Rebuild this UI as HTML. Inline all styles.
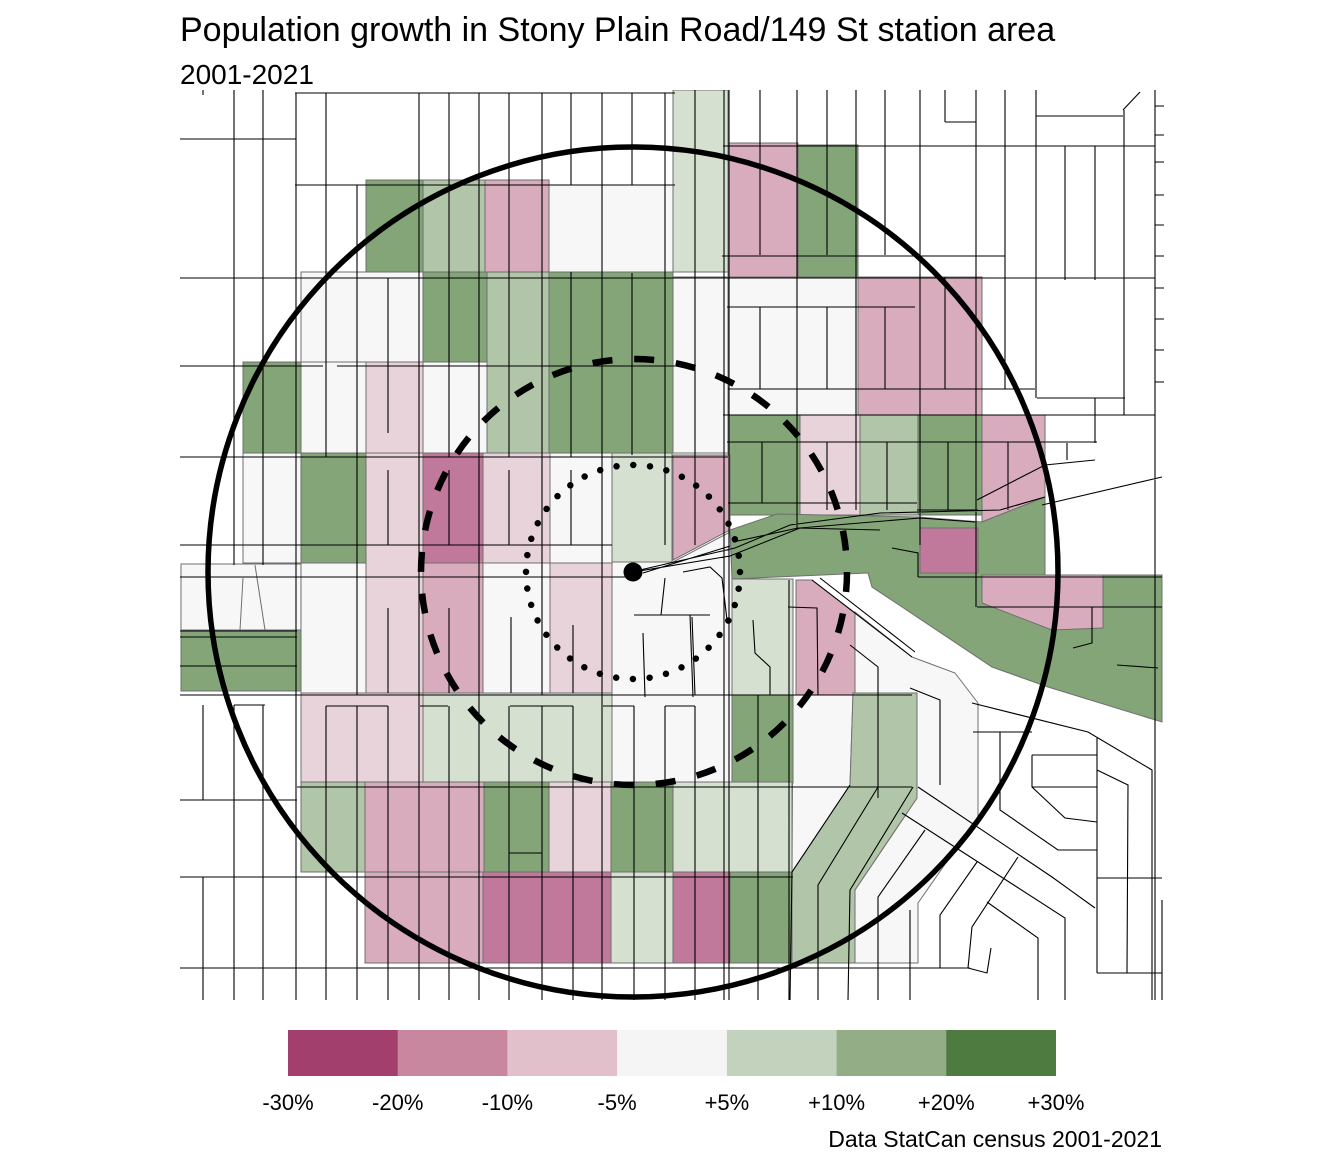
<!DOCTYPE html>
<html><head><meta charset="utf-8"><style>
html,body{margin:0;padding:0;background:#fff;}
svg{display:block;font-family:"Liberation Sans",Arial,sans-serif;}
</style></head><body>
<svg width="1344" height="1152" viewBox="0 0 1344 1152" xmlns="http://www.w3.org/2000/svg">
<defs><clipPath id="c"><rect x="180" y="90" width="984" height="911"/></clipPath></defs>
<rect width="1344" height="1152" fill="#fff"/>
<g clip-path="url(#c)">
<g stroke="#6f6f6f" stroke-width="1">
<rect x="673" y="90" width="55" height="182" fill="#d5e0d1"/>
<rect x="366" y="180" width="57" height="92" fill="#83a577"/>
<rect x="423" y="180" width="62" height="92" fill="#b1c6a8"/>
<rect x="485" y="180" width="64" height="92" fill="#d9acbd"/>
<rect x="549" y="185" width="124" height="87" fill="#f7f7f7"/>
<rect x="728" y="143" width="70" height="134" fill="#d9acbd"/>
<rect x="798" y="145" width="60" height="132" fill="#83a577"/>
<rect x="301" y="272" width="122" height="90" fill="#f7f7f7"/>
<rect x="423" y="272" width="64" height="90" fill="#83a577"/>
<rect x="487" y="272" width="62" height="181" fill="#b1c6a8"/>
<rect x="549" y="272" width="124" height="181" fill="#83a577"/>
<rect x="673" y="277" width="55" height="176" fill="#f7f7f7"/>
<rect x="728" y="277" width="130" height="138" fill="#f7f7f7"/>
<rect x="858" y="277" width="124" height="138" fill="#d9acbd"/>
<rect x="243" y="362" width="58" height="91" fill="#83a577"/>
<rect x="301" y="362" width="65" height="91" fill="#f7f7f7"/>
<rect x="366" y="362" width="57" height="91" fill="#e9d3db"/>
<rect x="423" y="362" width="64" height="91" fill="#f7f7f7"/>
<rect x="728" y="415" width="72" height="100" fill="#83a577"/>
<rect x="800" y="415" width="60" height="100" fill="#e9d3db"/>
<rect x="860" y="415" width="58" height="100" fill="#b1c6a8"/>
<rect x="918" y="415" width="64" height="100" fill="#83a577"/>
<polygon points="982,415 1045,415 1045,497 982,522" fill="#d9acbd"/>
<polygon points="730,530 777,514 918,517 982,522 1045,497 1045,575 1162,575 1162,722 1048,687 992,667 872,587 868,573 732,579" fill="#83a577"/>
<rect x="920" y="528" width="58" height="45" fill="#c0799b"/>
<polygon points="982,575 1103,575 1103,628 1052,630 982,603" fill="#d9acbd"/>
<rect x="243" y="453" width="58" height="110" fill="#f7f7f7"/>
<rect x="301" y="453" width="65" height="110" fill="#83a577"/>
<rect x="366" y="453" width="57" height="240" fill="#e9d3db"/>
<rect x="423" y="453" width="60" height="110" fill="#c0799b"/>
<rect x="483" y="453" width="67" height="110" fill="#e9d3db"/>
<rect x="550" y="453" width="62" height="110" fill="#f7f7f7"/>
<rect x="612" y="453" width="60" height="109" fill="#d5e0d1"/>
<polygon points="673,455 730,455 730,530 673,560" fill="#d9acbd"/>
<rect x="181" y="564" width="120" height="66" fill="#f7f7f7"/>
<rect x="181" y="630" width="120" height="61" fill="#83a577"/>
<rect x="301" y="563" width="65" height="130" fill="#f7f7f7"/>
<rect x="423" y="563" width="60" height="130" fill="#d9acbd"/>
<rect x="483" y="563" width="67" height="130" fill="#f7f7f7"/>
<rect x="550" y="563" width="62" height="130" fill="#e9d3db"/>
<polygon points="612,562 673,562 730,532 732,579 732,695 612,695" fill="#f7f7f7"/>
<rect x="732" y="579" width="61" height="116" fill="#d5e0d1"/>
<polygon points="796,580 812,580 855,613 855,695 796,695" fill="#d9acbd"/>
<polygon points="855,612 912,657 955,673 978,703 978,817 918,903 918,963 855,963 855,890 917,798 917,693 855,693" fill="#f7f7f7"/>
<polygon points="793,695 853,695 850,785 792,872" fill="#f7f7f7"/>
<rect x="301" y="693" width="122" height="89" fill="#e9d3db"/>
<rect x="423" y="693" width="189" height="89" fill="#d5e0d1"/>
<rect x="612" y="695" width="120" height="87" fill="#f7f7f7"/>
<rect x="732" y="695" width="61" height="88" fill="#83a577"/>
<polygon points="853,693 917,693 917,798 855,890 855,963 792,963 792,872 850,785" fill="#b1c6a8"/>
<rect x="301" y="782" width="64" height="90" fill="#b1c6a8"/>
<rect x="365" y="782" width="119" height="90" fill="#d9acbd"/>
<rect x="484" y="782" width="65" height="90" fill="#83a577"/>
<rect x="549" y="782" width="62" height="90" fill="#e9d3db"/>
<rect x="611" y="782" width="62" height="90" fill="#83a577"/>
<rect x="673" y="782" width="119" height="90" fill="#d5e0d1"/>
<rect x="365" y="872" width="118" height="91" fill="#d9acbd"/>
<rect x="483" y="872" width="128" height="91" fill="#c0799b"/>
<rect x="611" y="872" width="62" height="91" fill="#d5e0d1"/>
<rect x="673" y="872" width="57" height="91" fill="#c0799b"/>
<rect x="730" y="872" width="62" height="91" fill="#83a577"/>
<path fill="none" d="M243,578L240,630 M255,565L265,630"/>
</g>
<path fill="none" stroke="#000" stroke-width="1.1" d="
M180,139H296 M295,93H675 M295,185H675 M723,146H1155 M1036,116H1123 M945,122H976 M1123,110L1140,92
M722,256H1005 M180,278H1155 M727,307H915 M180,366H323 M337,366H675 M728,389H1035 M1037,398H1125
M723,415H1155 M727,442H1097 M180,457H728 M728,503H917 M917,510H978 M180,545H612
M180,577H630 M180,631H297 M180,637H297 M180,666H297 M180,695H912 M234,705H265 M180,800H297 M297,787H912
M180,877H793 M180,968H970 M509,853H542
M326,706H388 M420,706H448 M510,706H573 M603,706H634 M665,706H695
M234,90V565 M263,90V565 M234,705V1000 M263,705V1000 M203,705V800 M203,877V1000 M203,90V95
M296,93V1000
M326,93V457 M326,706V1000
M357,185V695 M357,706V1000
M388,278V433 M388,470V545 M388,608V693 M388,706V1000
M419,93V1000
M449,93V457 M449,470V545 M449,608V693 M449,706V1000
M479,93V1000
M509,93V457 M509,470V545 M511,617V693 M509,706V1000
M542,93V695 M542,706V1000
M571,93V185 M571,272V457 M571,470V545 M573,625V693 M573,706V1000
M602,93V1000
M632,93V185 M632,273V455 M634,706V1000
M665,93V545 M665,706V1000
M695,90V545 M692,617L695,695 M695,706V1000
M724,90V1000 M729,90V1000
M760,90V255 M760,307V389 M762,442V503 M758,695V1000
M797,90V530 M789,580V1000
M827,90V255 M827,307V389 M827,442V510
M856,90V510
M885,90V255 M885,307V389 M887,442V510
M920,90V545
M945,90V122 M945,277V389 M948,442V510
M976,90V607
M1005,90V389 M1008,442V510
M1036,90V398
M1065,146V280 M1095,146V280 M1095,398V443 M1067,443V460
M1124,110V415
M1155,90V1000 M1162,900V1000
M1155,106H1165 M1155,135H1165 M1155,162H1165 M1155,195H1165 M1155,225H1165 M1155,256H1165 M1155,288H1165 M1155,319H1165 M1155,350H1165 M1155,382H1165
M892,548L918,553V577 M918,577H1162 M977,607H1162 M1092,607V643L1073,648 M1117,665L1158,668
M633,572L730,556L800,528L920,518L975,522 M640,570L735,548L790,525L880,513L1000,510L1045,497
M1042,505L1162,477 M977,500L1045,465L1095,460 M643,573L730,546 M733,542L798,528L880,530
M634,615H710 M665,578L661,615 M683,572L710,567L722,578L727,620 M690,615L693,697 M643,633L645,697
M812,580L912,657 M820,578L915,652 M910,688L940,700V785 M850,645L878,667V798 M788,607L817,608L818,695 M753,620L755,653L770,667V695
M913,787L850,890L848,1000 M878,787L818,885L818,1000 M850,785L792,872L790,1000 M910,910V1000
M972,703L1088,732L1152,770V1000 M973,732H1032 M1000,732V810L1058,850H1097 M1032,755H1097 M1032,755V787L1065,818L1097,822
M1032,787H1097 M1097,737V973 M1097,770L1128,785L1127,973 M1097,878H1162 M1097,973H1162
M902,813L1065,918V1000 M918,787L1052,877L1095,908 M925,830L878,897V1000 M977,862L940,915V968
M1018,857L972,927L968,968L987,973L991,948 M987,902L1038,938V1000
"/>
<circle cx="633" cy="572" r="425" fill="none" stroke="#000" stroke-width="5.5"/>
<circle cx="634" cy="572" r="213" fill="none" stroke="#000" stroke-width="6.5" stroke-dasharray="20 21.82"/>
<circle cx="633" cy="572" r="107" fill="none" stroke="#000" stroke-width="6.5" stroke-linecap="round" stroke-dasharray="0 16.81"/>
<circle cx="633" cy="572" r="9.5" fill="#000"/>
</g>
<text x="180" y="41" font-size="34" fill="#000">Population growth in Stony Plain Road/149 St station area</text>
<text x="180" y="84" font-size="28" fill="#000">2001-2021</text>
<g>
<rect x="288" y="1030" width="110.2" height="46" fill="#a33f6c"/>
<rect x="397.7" y="1030" width="110.2" height="46" fill="#c8879f"/>
<rect x="507.4" y="1030" width="110.2" height="46" fill="#e2c0cb"/>
<rect x="617.1" y="1030" width="110.2" height="46" fill="#f5f5f5"/>
<rect x="726.9" y="1030" width="110.2" height="46" fill="#c2d2bc"/>
<rect x="836.6" y="1030" width="110.2" height="46" fill="#93ae86"/>
<rect x="946.3" y="1030" width="109.7" height="46" fill="#4e7c40"/>
</g>
<g font-size="22" fill="#000" text-anchor="middle">
<text x="288" y="1110">-30%</text>
<text x="397.7" y="1110">-20%</text>
<text x="507.4" y="1110">-10%</text>
<text x="617.1" y="1110">-5%</text>
<text x="726.9" y="1110">+5%</text>
<text x="836.6" y="1110">+10%</text>
<text x="946.3" y="1110">+20%</text>
<text x="1056" y="1110">+30%</text>
</g>
<text x="1162" y="1147" font-size="23" text-anchor="end" fill="#000">Data StatCan census 2001-2021</text>
</svg>
</body></html>
